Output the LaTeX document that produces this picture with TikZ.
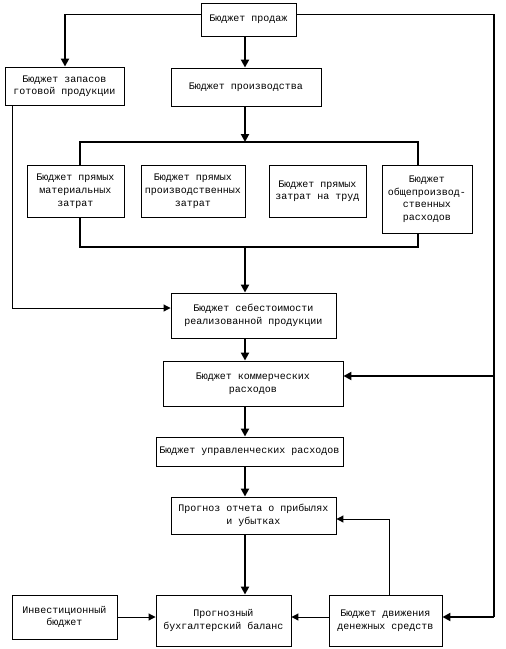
\documentclass[tikz,border=0pt]{standalone}
\usepackage{fontspec}
\setmonofont{Liberation Mono}
\usetikzlibrary{arrows.meta}
\newcommand\boxtext[1]{\begin{tabular}{@{}c@{}}#1\end{tabular}}
\renewcommand\arraystretch{1.05}
\begin{document}
\begin{tikzpicture}[x=1pt,y=-1pt,
  box/.style={draw,line width=0.9pt,inner sep=1pt,
    font=\ttfamily\fontsize{10}{12}\selectfont},
  thickline/.style={line width=2pt},
  thinline/.style={line width=1pt},
  tip/.style={-{Triangle[length=8pt,width=8pt]}},
  tipsmall/.style={-{Triangle[length=7pt,width=7pt]}}]
\useasboundingbox (0,0) rectangle (506,649);
% boxes
\node[box,minimum width=95pt,minimum height=33pt] (sales) at (248.5,19.5) {Бюджет продаж};
\node[box,minimum width=119pt,minimum height=38pt] (inv) at (64.5,86) {\boxtext{Бюджет запасов\\готовой продукции}};
\node[box,minimum width=150pt,minimum height=38pt] (prod) at (246,87) {Бюджет производства};
\node[box,minimum width=97pt,minimum height=52pt] (b1) at (75.5,191) {\boxtext{Бюджет прямых\\материальных\\затрат}};
\node[box,minimum width=104pt,minimum height=52pt] (b2) at (193,191) {\boxtext{Бюджет прямых\\производственных\\затрат}};
\node[box,minimum width=97pt,minimum height=52pt] (b3) at (317.5,191) {\boxtext{Бюджет прямых\\затрат на труд\\ }};
\node[box,minimum width=90pt,minimum height=68pt] (b4) at (427,199) {\boxtext{Бюджет\\общепроизвод-\\ственных\\расходов}};
\node[box,minimum width=165pt,minimum height=45pt] (cost) at (253.5,315.5) {\boxtext{Бюджет себестоимости\\реализованной продукции}};
\node[box,minimum width=180pt,minimum height=45pt] (comm) at (253,383.5) {\boxtext{Бюджет коммерческих\\расходов}};
\node[box,minimum width=187pt,minimum height=29pt] (mgmt) at (249.5,451.5) {Бюджет управленческих расходов};
\node[box,minimum width=165pt,minimum height=37pt] (pl) at (253.5,515.5) {\boxtext{Прогноз отчета о прибылях\\и убытках}};
\node[box,minimum width=105pt,minimum height=44pt] (invest) at (64.5,617) {\boxtext{Инвестиционный\\бюджет}};
\node[box,minimum width=135pt,minimum height=51pt] (bal) at (223.5,620.5) {\boxtext{Прогнозный\\бухгалтерский баланс}};
\node[box,minimum width=113pt,minimum height=51pt] (cash) at (385.5,620.5) {\boxtext{Бюджет движения\\денежных средств}};
% helper coordinates
\coordinate (S) at (0,14);
\coordinate (LS) at (65,14);
\coordinate (R1) at (494,14);
\coordinate (R2) at (494,376);
\coordinate (R3) at (494,617);
\coordinate (X) at (245,0);
\coordinate (TL) at (80,142);
\coordinate (TM) at (245,142);
\coordinate (TR) at (418,142);
\coordinate (BL) at (80,247);
\coordinate (BM) at (245,247);
\coordinate (BR) at (418,247);
\coordinate (L) at (12,308);
\coordinate (C) at (389,519);
\coordinate (Y) at (0,617);
% connectors
\draw[thinline] (sales.west |- S) -- (LS);
\draw[thickline,tip] (LS) -- (inv.north -| LS);
\draw[thinline] (sales.east |- S) -- (R1);
\draw[thickline] (R1) -- (R3);
\draw[thickline,tip] (R2) -- (comm.east |- R2);
\draw[thickline,tip] (R3) -- (cash.east |- R3);
\draw[thickline,tip] (sales.south -| X) -- (prod.north -| X);
\draw[thickline,tip] (prod.south -| X) -- (TM);
\draw[thickline] (b1.north -| TL) -- (TL) -- (TR) -- (b4.north -| TR);
\draw[thickline] (b1.south -| BL) -- (BL) -- (BR) -- (b4.south -| BR);
\draw[thickline,tip] (BM) -- (cost.north -| BM);
\draw[thinline,tipsmall] (inv.south -| L) |- (cost.west |- L);
\draw[thickline,tip] (cost.south -| X) -- (comm.north -| X);
\draw[thickline,tip] (comm.south -| X) -- (mgmt.north -| X);
\draw[thickline,tip] (mgmt.south -| X) -- (pl.north -| X);
\draw[thickline,tip] (pl.south -| X) -- (bal.north -| X);
\draw[thinline,tipsmall] (cash.north -| C) |- (pl.east |- C);
\draw[thinline,tipsmall] (cash.west |- Y) -- (bal.east |- Y);
\draw[thinline,tipsmall] (invest.east |- Y) -- (bal.west |- Y);
\end{tikzpicture}
\end{document}
